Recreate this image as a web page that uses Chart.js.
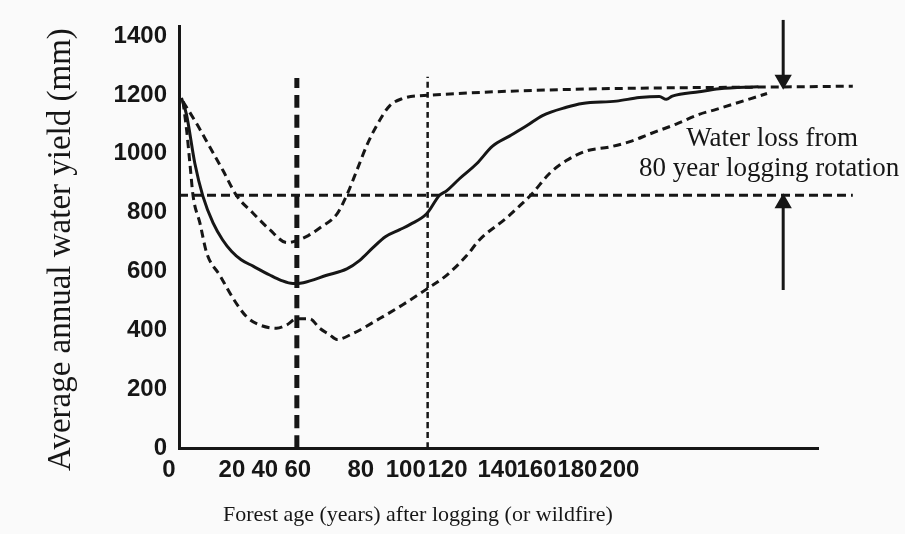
<!DOCTYPE html>
<html lang="en">
<head>
<meta charset="UTF-8">
<title>Water yield after logging</title>
<script src="https://cdn.jsdelivr.net/npm/chart.js"></script>
<style>
  html, body { margin: 0; padding: 0; background: #fafafa; }
  #chart { display: block; }
</style>
</head>
<body>
<canvas id="chart" width="905" height="534"></canvas>
<script>
// forest age (years) -> average annual water yield (mm)
const meanAge   = [1, 3, 6.4, 9.6, 13.7, 17.5, 21.2, 25, 29.8, 36.5, 41, 45.8, 50, 59.4, 67.5, 72.7, 77.9, 83, 88.8, 93, 99.6, 104.8, 107.6, 112.9, 119.7, 126.1, 132.9, 139.8, 146.2, 155.8, 162.2, 175.9, 185.1, 193.2, 196, 198.4, 209.2, 217.3, 233];
const meanYield = [1190, 1134, 966, 856, 765, 708, 668, 640, 618, 588, 570, 559, 562, 587, 609, 638, 680, 718, 742, 760, 796, 859, 874, 916, 966, 1026, 1060, 1095, 1130, 1158, 1171, 1179, 1191, 1195, 1185, 1196, 1211, 1221, 1228];

const upperAge   = [1.6, 7.2, 12.4, 17.7, 23.3, 29.7, 36.5, 43.4, 47.4, 52, 56.6, 63.5, 67.5, 71.5, 75.5, 79.5, 84.7, 90, 96, 271];
const upperYield = [1178, 1101, 1023, 943, 856, 799, 742, 698, 705, 722, 748, 795, 860, 943, 1028, 1096, 1163, 1188, 1197, 1230];

const lowerAge   = [1.6, 3.1, 4.4, 5.7, 8.4, 11.1, 16.5, 21.8, 27.2, 32.5, 39.2, 43.3, 47.3, 52.6, 56.6, 60.6, 63.5, 69.9, 80.7, 90, 99.6, 107.6, 115.7, 120.9, 131.7, 136.9, 142.2, 149, 155.8, 163.9, 173.1, 182.3, 189.2, 200, 209.2, 216.1, 236.5];
const lowerYield = [1178, 1078, 966, 855, 765, 664, 586, 508, 446, 418, 407, 418, 439, 439, 407, 385, 369, 389, 440, 487, 540, 587, 654, 708, 782, 822, 866, 933, 977, 1010, 1023, 1044, 1067, 1101, 1134, 1151, 1205];

const rotationLevel = [859, 859];      // yield at the 80 year rotation
const rotationSpan  = [0, 271];
const cutAge     = [47.4, 47.4];
const cutSpan    = [0, 1258];
const centuryAge  = [100, 100];
const centurySpan = [0, 1262];
const arrowAge   = [243, 243];
const arrowDown  = [1455, 1252];
const arrowUp    = [537, 832];

// tick labels sit unevenly in the original print
const xTickPos    = [0, 21.3, 34.5, 47.8, 73.1, 91.2, 108, 128.1, 143.8, 160.2, 177.1];
const xTickLabels = ['0   ', '20', '40', '60', '80', '100', '120', '140', '160', '180', '200'];
const yTicks      = [0, 200, 400, 600, 800, 1000, 1200, 1400];

const ink = '#161616';

function pts(xs, ys) {
  return xs.map((x, i) => ({ x: x, y: ys[i] }));
}

function line(data, width, dash, extra) {
  return Object.assign({
    data: data,
    borderColor: ink,
    borderWidth: width,
    borderDash: dash,
    pointRadius: 0,
    cubicInterpolationMode: 'monotone',
    fill: false,
    clip: false
  }, extra || {});
}

const notes = {
  id: 'notes',
  afterDatasetsDraw(chart) {
    const ctx = chart.ctx;
    const x = chart.scales.x, y = chart.scales.y;
    ctx.save();
    ctx.fillStyle = ink;
    ctx.font = '27px "Liberation Serif", serif';
    ctx.textBaseline = 'middle';
    ctx.fillText('Water loss from', x.getPixelForValue(204), y.getPixelForValue(1050));
    ctx.fillText('80 year logging rotation', x.getPixelForValue(185), y.getPixelForValue(950));
    ctx.restore();
  }
};

new Chart(document.getElementById('chart'), {
  type: 'line',
  data: {
    datasets: [
      line(pts(meanAge, meanYield), 3, []),
      line(pts(upperAge, upperYield), 3, [8, 5]),
      line(pts(lowerAge, lowerYield), 3, [8, 5]),
      line(pts(rotationSpan, rotationLevel), 3, [9, 5]),
      line(pts(cutAge, cutSpan), 5, [13, 7]),
      line(pts(centuryAge, centurySpan), 2.5, [6, 4]),
      line(pts(arrowAge, arrowDown), 3, [], {
        pointRadius: [0, 7], pointStyle: 'triangle', pointRotation: 180,
        pointBackgroundColor: ink, pointBorderColor: ink
      }),
      line(pts(arrowAge, arrowUp), 3, [], {
        pointRadius: [0, 7], pointStyle: 'triangle', pointRotation: 0,
        pointBackgroundColor: ink, pointBorderColor: ink
      })
    ]
  },
  options: {
    responsive: false,
    animation: false,
    layout: { padding: { left: 38, top: 20, right: 87, bottom: 2 } },
    plugins: { legend: { display: false }, tooltip: { enabled: false } },
    scales: {
      x: {
        type: 'linear',
        min: 0,
        max: 257,
        grid: { display: false, drawTicks: false },
        border: { color: ink, width: 3 },
        afterBuildTicks: s => { s.ticks = xTickPos.map(v => ({ value: v })); },
        afterFit: s => { s.height = 84; },
        ticks: {
          autoSkip: false,
          maxRotation: 0,
          padding: 8,
          color: ink,
          font: { family: '"Liberation Sans", Arial, sans-serif', size: 24, weight: 'bold' },
          callback: (v, i) => xTickLabels[i]
        },
        title: {
          display: true,
          align: 'start',
          text: '        Forest age (years) after logging (or wildfire)',
          color: ink,
          font: { family: '"Liberation Serif", serif', size: 22 }
        }
      },
      y: {
        min: 0,
        max: 1433,
        grid: { display: false, drawTicks: false },
        border: { color: ink, width: 3 },
        afterBuildTicks: s => { s.ticks = yTicks.map(v => ({ value: v })); },
        afterFit: s => { s.width = 141; },
        ticks: {
          padding: 12,
          color: ink,
          font: { family: '"Liberation Sans", Arial, sans-serif', size: 24, weight: 'bold' },
          callback: v => String(v)
        },
        title: {
          display: true,
          text: 'Average annual water yield (mm)   ',
          color: ink,
          font: { family: '"Liberation Serif", serif', size: 33 }
        }
      }
    }
  },
  plugins: [notes]
});
</script>
</body>
</html>
